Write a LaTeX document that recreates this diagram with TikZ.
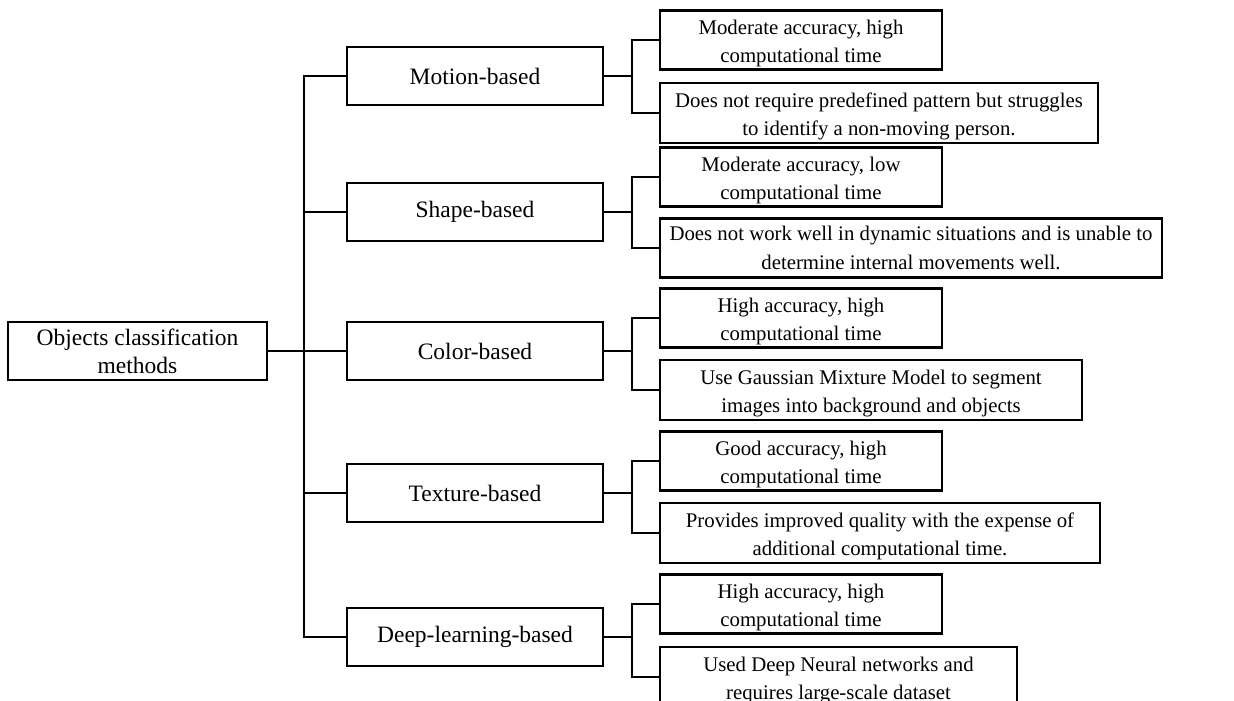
\documentclass[tikz,border=0pt]{standalone}
\usepackage{fontspec}
\setmainfont{Liberation Serif}
\begin{document}
\begin{tikzpicture}[x=1pt,y=-1pt,
  box/.style={draw, line width=2.5pt, rectangle, inner sep=0pt, align=center,
    font=\fontsize{20.8}{28.5}\selectfont},
  % note text sits a little low in its frame
  notetext/.style={inner sep=0pt, align=center, yshift=-3.5pt,
    font=\fontsize{20.8}{28.5}\selectfont},
  lowtext/.style={label={[notetext]center:{#1}}},
  rootbox/.style={box, minimum width=259pt, minimum height=58pt,
    font=\fontsize{23.5}{28}\selectfont},
  catbox/.style={box, minimum width=256pt, minimum height=58pt,
    font=\fontsize{23.5}{28}\selectfont},
  notebox/.style={box, lowtext={#1}, minimum width=282pt, minimum height=59pt},
  widebox/.style={box, lowtext={#1}, minimum height=60pt},
  link/.style={line width=1.2pt}]
\useasboundingbox (0,0) rectangle (1234,701);
\clip (0,0) rectangle (1234,701);

% root
\node[rootbox] (root) at (137.5,351) {Objects classification\\methods};

% categories
\node[catbox] (c1) at (475,76)  {Motion-based};
\node[catbox] (c2) at (475,212) {Shape-based};
\node[catbox] (c3) at (475,351) {Color-based};
\node[catbox] (c4) at (475,493) {Texture-based};
\node[catbox] (c5) at (475,637) {Deep-learning-based};

% first notes (accuracy / time)
\node[notebox={Moderate accuracy, high\\computational time}] (a1) at (801,40) {};
\node[notebox={Moderate accuracy, low\\computational time}] (a2) at (801,177) {};
\node[notebox={High accuracy, high\\computational time}] (a3) at (801,318) {};
\node[notebox={Good accuracy, high\\computational time}] (a4) at (801,461) {};
\node[notebox={High accuracy, high\\computational time}] (a5) at (801,604) {};

% second notes (remarks)
\node[widebox={Does not require predefined pattern but struggles\\to identify a non-moving person.},
  minimum width=438pt] (d1) at (879,113) {};
\node[box, minimum width=502pt, minimum height=59pt] (d2) at (911,248)
  {Does not work well in dynamic situations and is unable to\\determine internal movements well.};
\node[widebox={Use Gaussian Mixture Model to segment\\images into background and objects},
  minimum width=422pt] (d3) at (871,390) {};
\node[widebox={Provides improved quality with the expense of\\additional computational time.},
  minimum width=440pt] (d4) at (880,533) {};
\node[widebox={Used Deep Neural networks and\\requires large-scale dataset},
  minimum width=357pt] (d5) at (838.5,677) {};

% trunk from the root to the categories
\coordinate (t) at (304,351);
\draw[link] (root.east) -- (t);
\draw[link] (c1.west) -- (c1.west -| t) -- (c5.west -| t) -- (c5.west);
\foreach \c in {c2,c3,c4}
  \draw[link] (\c.west) -- (\c.west -| t);

% brackets from each category to its two notes
\coordinate (bx) at (632,0);
\foreach \i in {1,...,5} {
  \draw[link] (c\i.east) -- (c\i.east -| bx);
  \draw[link] (a\i.west) -- (a\i.west -| bx) -- (d\i.west -| bx) -- (d\i.west);
}
\end{tikzpicture}
\end{document}
